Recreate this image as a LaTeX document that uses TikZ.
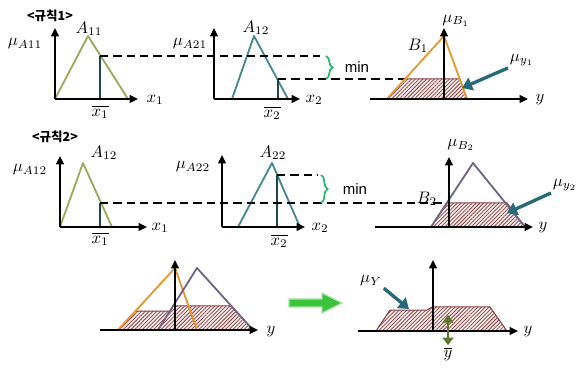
\documentclass[tikz,border=0pt]{standalone}
\usepackage{fontspec}
\newfontfamily\krfont{Noto Sans CJK KR}
\newfontfamily\minfont{Liberation Sans}
\usepackage{tikz}
\usetikzlibrary{patterns.meta,decorations.pathreplacing,arrows.meta}
\definecolor{olivecol}{RGB}{155,170,90}
\definecolor{tealcol}{RGB}{70,135,148}
\definecolor{xbarcol}{RGB}{30,68,80}
\definecolor{orangecol}{RGB}{232,150,46}
\definecolor{slatecol}{RGB}{110,100,135}
\definecolor{hatchcol}{RGB}{135,65,65}
\definecolor{hatchbg}{RGB}{248,236,236}
\definecolor{pointcol}{RGB}{38,105,122}
\definecolor{bracecol}{RGB}{30,185,100}
\definecolor{bigarrow}{RGB}{60,195,60}
\definecolor{ybarcol}{RGB}{92,120,45}

\begin{document}
\begin{tikzpicture}[x=0.6pt,y=-0.6pt,
  axis/.style={line width=1.2pt,-{Triangle[length=5pt,width=4.5pt]}},
  mf/.style={line width=1.1pt,line join=round},
  xbar/.style={line width=1.1pt,draw=xbarcol},
  dashline/.style={line width=0.8pt,dash pattern=on 5pt off 3pt},
  hatch/.style={draw=hatchcol,line width=0.6pt,fill=hatchbg,
    postaction={pattern={Lines[angle=45,distance=1.6pt,line width=0.45pt]},pattern color=hatchcol}},
  pointer/.style={line width=2pt,draw=pointcol,-{Triangle[length=6pt,width=8pt]}},
  minbrace/.style={decorate,decoration={brace,amplitude=4pt},draw=bracecol,line width=1pt},
  rulelbl/.style={font=\krfont\bfseries\fontsize{7.5}{9}\selectfont},
  minlbl/.style={font=\minfont\small},
  lbl/.style={inner sep=1pt}
]
\useasboundingbox (0,0) rectangle (581,370);

% ---- rule 1
\node[rulelbl] (rule1) at (50,16) {<규칙1>};
% A11
\draw[mf,olivecol] (55,99) -- (88,36) -- (128,99);
\draw[xbar] (100,99) -- (100,56);
\draw[axis] (55,99) -- (55,28);
\draw[axis] (55,99) -- (138,99);
\node[lbl,anchor=east] (muA11) at (44,44) {$\mu_{A11}$};
\node[lbl] (A11) at (89,29) {$A_{11}$};
\node[lbl] (xb11) at (100,112) {$\overline{x_1}$};
\node[lbl] (x11) at (155,100) {$x_1$};
% A21
\draw[mf,tealcol] (232,99) -- (254,36) -- (288,99);
\draw[xbar] (278,99) -- (278,79);
\draw[axis] (214,99) -- (214,28);
\draw[axis] (214,99) -- (300,99);
\node[lbl,anchor=east] (muA21) at (209,44) {$\mu_{A21}$};
\node[lbl] (A12a) at (256,28) {$A_{12}$};
\node[lbl] (xb21) at (272,113) {$\overline{x_2}$};
\node[lbl] (x21) at (314,100) {$x_2$};
\draw[dashline] (100,56) -- (320,56);
\draw[dashline] (278,79) -- (405,79);
\draw[minbrace] (326,56) -- (326,79);
\node[minlbl] (min1) at (357,67) {min};
% B1
\draw[hatch] (387,99) -- (405,79) -- (460,79) -- (467,99) -- cycle;
\draw[mf,orangecol] (387,99) -- (444,36) -- (467,99);
\draw[axis] (444,99) -- (444,28);
\draw[axis] (370,99) -- (528,99);
\node[lbl] (muB1) at (456,21) {$\mu_{B_1}$};
\node[lbl] (B1) at (418,46) {$B_1$};
\node[lbl] (y1) at (540,100) {$y$};
\node[lbl] (muy1) at (522,60) {$\mu_{y_1}$};
\coordinate (tip1) at (462,88);
\draw[pointer] (muy1.south west) -- (tip1);

% ---- rule 2
\node[rulelbl] (rule2) at (55,137) {<규칙2>};
% A12
\draw[mf,olivecol] (60,227) -- (83,163) -- (112,227);
\draw[xbar] (100,227) -- (100,203);
\draw[axis] (60,227) -- (60,156);
\draw[axis] (60,227) -- (147,227);
\node[lbl,anchor=east] (muA12) at (49,170) {$\mu_{A12}$};
\node[lbl] (A12b) at (104,153) {$A_{12}$};
\node[lbl] (xb12) at (100,239) {$\overline{x_1}$};
\node[lbl] (x12) at (160,228) {$x_1$};
% A22
\draw[mf,tealcol] (238,227) -- (272,163) -- (300,227);
\draw[xbar] (277,227) -- (277,175);
\draw[axis] (222,227) -- (222,155);
\draw[axis] (222,227) -- (305,227);
\node[lbl,anchor=east] (muA22) at (212,167) {$\mu_{A22}$};
\node[lbl] (A22) at (273,153) {$A_{22}$};
\node[lbl] (xb22) at (279,241) {$\overline{x_2}$};
\node[lbl] (x22) at (320,228) {$x_2$};
\draw[dashline] (277,175) -- (318,175);
\draw[dashline] (100,203) -- (447,203);
\draw[minbrace] (321,175) -- (321,203);
\node[minlbl] (min2) at (355,189) {min};
% B2
\draw[hatch] (431,227) -- (447,203) -- (507,203) -- (525,227) -- cycle;
\draw[mf,slatecol] (431,227) -- (473,163) -- (525,227);
\draw[axis] (449,227) -- (449,157);
\draw[axis] (375,227) -- (533,227);
\node[lbl] (muB2) at (461,145) {$\mu_{B_2}$};
\node[lbl] (B2) at (427,199) {$B_2$};
\node[lbl] (y2) at (543,228) {$y$};
\node[lbl] (muy2) at (565,185) {$\mu_{y_2}$};
\coordinate (tip2) at (507,213);
\draw[pointer] (muy2.south west) -- (tip2);

% ---- aggregation
\draw[hatch] (118,330) -- (135.5,311) -- (170,311) -- (173,306) -- (231,306) -- (253,330) -- cycle;
\draw[mf,orangecol] (118,330) -- (175,268) -- (197,330);
\draw[mf,slatecol] (158,330) -- (197,268) -- (253,330);
\draw[axis] (175,330) -- (175,260);
\draw[axis] (100,330) -- (258,330);
\node[lbl] (y3) at (271,332) {$y$};

\fill[bigarrow,draw=bigarrow!45,line width=0.8pt]
  (289,299) -- (322,299) -- (322,293) -- (342,303) -- (322,313) -- (322,307) -- (289,307) -- cycle;

% ---- result
\draw[hatch] (376,331) -- (390,310) -- (427,310) -- (432,307) -- (490,307) -- (507,331) -- cycle;
\draw[axis] (433,331) -- (433,260);
\draw[axis] (358,331) -- (518,331);
\node[lbl] (y4) at (528,332) {$y$};
\node[lbl] (muY) at (371,281) {$\mu_{Y}$};
\coordinate (tipY) at (409,309);
\draw[pointer] (muY.south east) -- (tipY);
\node[lbl] (ybar) at (448,354) {$\overline{y}$};
\coordinate (ytop) at (448,315);
\draw[ybarcol,line width=1.6pt,{Triangle[length=4.5pt,width=6.5pt]}-{Triangle[length=4.5pt,width=6.5pt]}] (ytop) -- (ybar.north);
\end{tikzpicture}
\end{document}
